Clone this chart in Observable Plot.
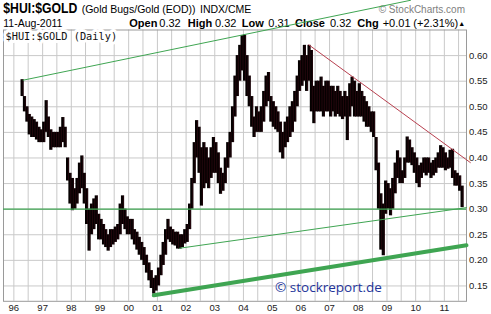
<!DOCTYPE html>
<html><head><meta charset="utf-8">
<script src="https://cdn.jsdelivr.net/npm/d3@7"></script>
<script src="https://cdn.jsdelivr.net/npm/@observablehq/plot@0.6"></script>
<style>
body{margin:0;background:#fff}
#wrap{position:relative;width:491px;height:314px;overflow:hidden;background:#fff}
#head{position:absolute;left:0;top:0;z-index:0}
#chart{position:absolute;left:0;top:0;z-index:1}
</style></head><body>
<div id="wrap"><svg id="head" width="491" height="40"></svg><div id="chart"></div></div>
<script>
// ---- data, monthly high / low of $HUI:$GOLD, Apr 1996 – Aug 2011
const firstMonth = {year: 1996, month: 3}; // April 1996
const high = [
  0.553, 0.52, 0.50, 0.485, 0.48, 0.475, 0.47, 0.46, 0.455,              // 1996 Apr-Dec
  0.47, 0.512, 0.48, 0.455, 0.45, 0.45, 0.45, 0.46, 0.479, 0.46, 0.40, 0.37, // 1997
  0.36, 0.34, 0.36, 0.39, 0.404, 0.37, 0.34, 0.30, 0.31, 0.32, 0.326, 0.29,  // 1998
  0.28, 0.27, 0.26, 0.25, 0.26, 0.26, 0.265, 0.27, 0.31, 0.326, 0.30, 0.285, // 1999
  0.28, 0.28, 0.26, 0.255, 0.245, 0.235, 0.225, 0.21, 0.195, 0.18, 0.165, 0.17, // 2000
  0.185, 0.21, 0.235, 0.26, 0.28, 0.265, 0.26, 0.255, 0.255, 0.25, 0.25, 0.26, // 2001
  0.27, 0.31, 0.36, 0.43, 0.473, 0.46, 0.42, 0.43, 0.42, 0.40, 0.42, 0.44,   // 2002
  0.43, 0.41, 0.38, 0.37, 0.40, 0.43, 0.45, 0.50, 0.56, 0.60, 0.62, 0.639,   // 2003
  0.64, 0.60, 0.56, 0.52, 0.48, 0.50, 0.49, 0.50, 0.53, 0.56, 0.567, 0.52,   // 2004
  0.51, 0.50, 0.49, 0.47, 0.45, 0.47, 0.48, 0.50, 0.51, 0.53, 0.56, 0.59,    // 2005
  0.60, 0.62, 0.60, 0.62, 0.61, 0.54, 0.55, 0.55, 0.558, 0.54, 0.55, 0.55,   // 2006
  0.54, 0.54, 0.53, 0.54, 0.53, 0.52, 0.53, 0.52, 0.545, 0.558, 0.55, 0.53,  // 2007
  0.545, 0.53, 0.52, 0.51, 0.50, 0.49, 0.49, 0.44, 0.39, 0.33, 0.31, 0.355,  // 2008
  0.35, 0.34, 0.36, 0.39, 0.414, 0.40, 0.375, 0.40, 0.441, 0.435, 0.42, 0.41, // 2009
  0.40, 0.385, 0.39, 0.40, 0.40, 0.40, 0.39, 0.395, 0.40, 0.41, 0.424, 0.42, // 2010
  0.41, 0.40, 0.415, 0.417, 0.375, 0.37, 0.365, 0.345                        // 2011 Jan-Aug
];
const low = [
  0.52, 0.49, 0.47, 0.445, 0.44, 0.44, 0.435, 0.43, 0.43,                    // 1996
  0.43, 0.45, 0.44, 0.415, 0.42, 0.42, 0.42, 0.42, 0.43, 0.42, 0.355, 0.31,  // 1997
  0.297, 0.30, 0.31, 0.33, 0.34, 0.31, 0.27, 0.218, 0.25, 0.26, 0.27, 0.24,  // 1998
  0.24, 0.23, 0.225, 0.218, 0.225, 0.23, 0.235, 0.24, 0.25, 0.27, 0.26, 0.25, // 1999
  0.25, 0.24, 0.23, 0.22, 0.21, 0.20, 0.19, 0.175, 0.16, 0.145, 0.134, 0.14, // 2000
  0.15, 0.17, 0.19, 0.21, 0.24, 0.235, 0.23, 0.228, 0.222, 0.222, 0.225, 0.232, // 2001
  0.235, 0.26, 0.30, 0.35, 0.40, 0.37, 0.306, 0.34, 0.35, 0.34, 0.36, 0.37,  // 2002
  0.37, 0.35, 0.329, 0.335, 0.35, 0.38, 0.40, 0.43, 0.48, 0.52, 0.55, 0.57,  // 2003
  0.55, 0.52, 0.50, 0.46, 0.44, 0.45, 0.45, 0.45, 0.47, 0.50, 0.51, 0.47,    // 2004
  0.46, 0.455, 0.45, 0.41, 0.398, 0.42, 0.43, 0.44, 0.45, 0.47, 0.50, 0.53,  // 2005
  0.54, 0.55, 0.53, 0.55, 0.49, 0.467, 0.49, 0.49, 0.49, 0.48, 0.49, 0.49,   // 2006
  0.48, 0.49, 0.48, 0.485, 0.48, 0.475, 0.48, 0.434, 0.48, 0.50, 0.48, 0.48, // 2007
  0.48, 0.48, 0.47, 0.46, 0.46, 0.45, 0.44, 0.375, 0.30, 0.22, 0.209, 0.29,  // 2008
  0.30, 0.287, 0.30, 0.33, 0.36, 0.35, 0.35, 0.36, 0.39, 0.39, 0.385, 0.37,  // 2009
  0.35, 0.342, 0.36, 0.37, 0.365, 0.37, 0.36, 0.365, 0.37, 0.38, 0.38, 0.38, // 2010
  0.375, 0.378, 0.38, 0.36, 0.345, 0.345, 0.335, 0.303                       // 2011
];
// trend lines (end points)
const upperChannel = [{date: "1996-04-29", value: 0.552}, {date: "2009-10-27", value: 0.708}];
const middleChannel = [{date: "2001-10-12", value: 0.2237}, {date: "2011-10-10", value: 0.303}];
const lowerChannel = [{date: "2000-11-16", value: 0.1317}, {date: "2011-10-10", value: 0.2294}];
const resistance = [{date: "2006-04-12", value: 0.621}, {date: "2011-11-28", value: 0.391}];
const supportLevel = [0.30];
// axis labels
const yTicks = [0.15, 0.20, 0.25, 0.30, 0.35, 0.40, 0.45, 0.50, 0.55, 0.60];
const years = [1996, 1997, 1998, 1999, 2000, 2001, 2002, 2003, 2004, 2005, 2006, 2007, 2008, 2009, 2010, 2011];
const quote = {date: "11-Aug-2011", open: "0.32", high: "0.32", low: "0.31", close: "0.32", chg: "+0.01", pct: "(+2.31%)"};

// ---- build
const bars = high.map((h, i) => ({date: new Date(Date.UTC(firstMonth.year, firstMonth.month + i, 15)), high: h, low: low[i]}));
const toPts = a => a.map(d => ({date: new Date(d.date), value: d.value}));
const yearTicks = years.map(y => new Date(Date.UTC(y, 0, 1)));
const gridDates = d3.utcMonth.every(6).range(new Date(Date.UTC(1996, 0, 1)), new Date(Date.UTC(2011, 8, 1)));

// header (text above the plot frame)
const head = d3.select("#head");
const F = "'Liberation Sans', Arial, sans-serif";
head.append("text").attr("x", 3.3).attr("y", 13.3).attr("font-family", F).attr("font-weight", "bold")
  .attr("font-size", 14.5).attr("textLength", 74).attr("lengthAdjust", "spacingAndGlyphs").text("$HUI:$GOLD");
head.append("text").attr("x", 81.7).attr("y", 13).attr("font-family", F).attr("font-size", 10.5).text("(Gold Bugs/Gold (EOD))");
head.append("text").attr("x", 200).attr("y", 13).attr("font-family", F).attr("font-size", 10.5).text("INDX/CME");
head.append("text").attr("x", 465).attr("y", 13).attr("text-anchor", "end").attr("font-family", F).attr("font-size", 10)
  .attr("fill", "#808080").text("\u00A9 StockCharts.com");
head.append("text").attr("x", 3.3).attr("y", 26.7).attr("font-family", F).attr("font-size", 10.5).text(quote.date);
const pieces = [
  ["Open", 129.3, true], [quote.open, 159.3, false],
  ["High", 187.7, true], [quote.high, 215, false],
  ["Low", 241.7, true], [quote.low, 268.3, false],
  ["Close", 295, true], [quote.close, 330, false],
  ["Chg", 357.3, true], [quote.chg, 382.7, false], [quote.pct, 413.3, false]
];
for (const [t, x, b] of pieces) {
  head.append("text").attr("x", x).attr("y", 26.7).attr("font-family", F).attr("font-size", 11)
    .attr("font-weight", b ? "bold" : "normal").text(t);
}
head.append("text").attr("x", 458.3).attr("y", 26.2).attr("font-family", F).attr("font-size", 7).text("\u25B2");

const green = "#3fa552";
const chart = Plot.plot({
  width: 491, height: 314,
  marginLeft: 3, marginRight: 25, marginTop: 29.5, marginBottom: 13.2,
  style: {background: "transparent", fontFamily: F, fontSize: "9.5px", color: "#222", overflow: "visible"},
  x: {type: "utc", domain: [new Date("1995-08-22"), new Date("2011-10-10")]},
  y: {domain: [0.12, 0.65]},
  marks: [
    Plot.gridY(yTicks, {stroke: "#c9c9c9", strokeOpacity: 1}),
    Plot.gridX(gridDates, {stroke: "#c9c9c9", strokeOpacity: 1}),
    Plot.frame({stroke: "#9a9a9a"}),
    Plot.text(["$HUI:$GOLD (Daily)"], {text: d => d, frameAnchor: "top-left", textAnchor: "start", lineAnchor: "top",
      dx: 2, dy: 3, fontFamily: "'DejaVu Sans Mono', monospace", fontSize: 10.3, fill: "#111", stroke: "white", strokeWidth: 6}),
    Plot.ruleX(bars, {x: "date", y1: "low", y2: "high", stroke: "#050000", strokeWidth: 3.2}),
    Plot.ruleX(bars, {x: "date", y1: "low", y2: "high", stroke: "#7a1a30", strokeWidth: 0.5, strokeOpacity: 0.55, dx: 0.9}),
    Plot.ruleY(supportLevel, {stroke: green, strokeWidth: 1.2}),
    Plot.line(toPts(upperChannel), {x: "date", y: "value", stroke: green, strokeWidth: 1}),
    Plot.line(toPts(middleChannel), {x: "date", y: "value", stroke: green, strokeWidth: 1}),
    Plot.line(toPts(lowerChannel), {x: "date", y: "value", stroke: green, strokeWidth: 4}),
    Plot.line(toPts(resistance), {x: "date", y: "value", stroke: "#b8404f", strokeWidth: 1}),
    Plot.text(["\u00A9 stockreport.de"], {text: d => d, frameAnchor: "bottom", dx: 93.5, dy: -14, lineAnchor: "middle",
      fontFamily: "'Open Sans', sans-serif", fontSize: 13.5, fill: "#23349a"}),
    Plot.axisY(yTicks, {anchor: "right", tickSize: 0, tickPadding: 2.5, tickFormat: d3.format(".2f"), label: null}),
    Plot.axisX(yearTicks, {anchor: "bottom", tickSize: 0, tickPadding: 3, tickFormat: d3.utcFormat("%y"), label: null})
  ]
});
document.getElementById("chart").appendChild(chart);
</script>
</body></html>
